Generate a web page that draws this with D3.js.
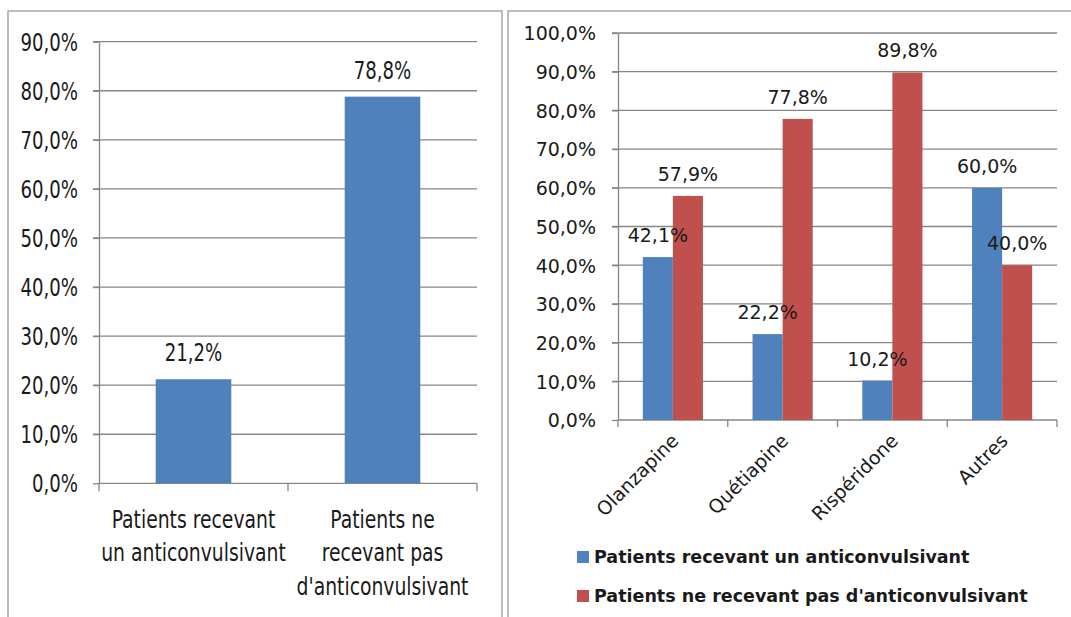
<!DOCTYPE html>
<html lang="fr">
<head>
<meta charset="UTF-8">
<title>Anticonvulsivants</title>
<script src="https://d3js.org/d3.v7.min.js"></script>
<style>
  body { margin: 0; background: #fff; }
  svg { display: block; }
  .narrow { font-family: "Liberation Sans Narrow", "DejaVu Sans Condensed", "DejaVu Sans", sans-serif; font-stretch: condensed; fill: #1a1a1a; }
  .wide { font-family: "DejaVu Sans", Verdana, sans-serif; fill: #1a1a1a; }
  .grid line { stroke: #868686; stroke-width: 1.3; }
  .axis path, .axis line { stroke: #868686; stroke-width: 1.3; }
</style>
</head>
<body>
<div id="chart"></div>
<script>
// left chart
const leftCats = ["Patients recevant un anticonvulsivant", "Patients ne recevant pas d'anticonvulsivant"];
const leftLines = [["Patients recevant", "un anticonvulsivant"], ["Patients ne", "recevant pas", "d'anticonvulsivant"]];
const leftValues = [21.2, 78.8];
const leftTicks = [0, 10, 20, 30, 40, 50, 60, 70, 80, 90];

// right chart
const rightCats = ["Olanzapine", "Quétiapine", "Rispéridone", "Autres"];
const series = ["Patients recevant un anticonvulsivant", "Patients ne recevant pas d'anticonvulsivant"];
const withAnti = [42.1, 22.2, 10.2, 60.0];
const withoutAnti = [57.9, 77.8, 89.8, 40.0];
const rightTicks = [0, 10, 20, 30, 40, 50, 60, 70, 80, 90, 100];

const colors = ["#4F81BD", "#C0504D"];
const fmt = v => d3.format(".1f")(v).replace(".", ",") + "%";
const SX = 0.84; // squeeze for the narrow font of the left chart

const W = 1071, H = 617;
const svg = d3.select("#chart").append("svg").attr("width", W).attr("height", H);

// panel borders
svg.append("path")
  .attr("d", "M8,617 V11 H502 V617")
  .attr("fill", "none").attr("stroke", "#a6a6a6").attr("stroke-width", 1.5);
svg.append("path")
  .attr("d", "M508,617 V11 H1071")
  .attr("fill", "none").attr("stroke", "#a6a6a6").attr("stroke-width", 1.5);

// ---------- left chart ----------
const L = { left: 99, right: 477, top: 41.7, bottom: 483.3 };
const xL = d3.scaleBand().domain(leftCats).range([L.left, L.right]);
const yL = d3.scaleLinear().domain([0, 90]).range([L.bottom, L.top]);
const gL = svg.append("g");

gL.append("g").attr("class", "grid")
  .selectAll("line").data(leftTicks.slice(1)).join("line")
  .attr("x1", L.left - 6).attr("x2", L.right)
  .attr("y1", d => yL(d)).attr("y2", d => yL(d));

const yAxisL = gL.append("g").attr("class", "axis")
  .attr("transform", `translate(${L.left},0)`)
  .call(d3.axisLeft(yL).tickValues(leftTicks).tickSize(6).tickSizeOuter(0).tickFormat(fmt));
yAxisL.selectAll("text").attr("class", "narrow").attr("x", 0)
  .attr("transform", `translate(-21,0) scale(${SX},1)`)
  .style("font-size", "24px").attr("dy", "0.36em");

// x axis line + ticks at band edges
gL.append("line")
  .attr("x1", L.left).attr("x2", L.right).attr("y1", L.bottom).attr("y2", L.bottom)
  .attr("stroke", "#868686").attr("stroke-width", 1.3);
gL.selectAll(".xtick").data([...leftCats.map(c => xL(c)), L.right]).join("line")
  .attr("x1", d => d).attr("x2", d => d).attr("y1", L.bottom).attr("y2", L.bottom + 8)
  .attr("stroke", "#868686").attr("stroke-width", 1.3);

const barWL = xL.bandwidth() / 2.5;
gL.selectAll(".bar").data(leftValues).join("rect")
  .attr("x", (d, i) => xL(leftCats[i]) + (xL.bandwidth() - barWL) / 2)
  .attr("width", barWL)
  .attr("y", d => yL(d))
  .attr("height", d => yL(0) - yL(d))
  .attr("fill", colors[0]);

gL.selectAll(".val").data(leftValues).join("text")
  .attr("class", "narrow").style("font-size", "24px")
  .attr("text-anchor", "middle")
  .attr("transform", (d, i) => `translate(${xL(leftCats[i]) + xL.bandwidth() / 2},${yL(d) - 18}) scale(${SX},1)`)
  .text(fmt);

const catL = gL.selectAll(".cat").data(leftLines).join("text")
  .attr("class", "narrow").style("font-size", "24px")
  .attr("text-anchor", "middle")
  .attr("transform", (d, i) => `translate(${xL(leftCats[i]) + xL.bandwidth() / 2},0) scale(0.87,1)`);
catL.selectAll("tspan").data(d => d).join("tspan")
  .attr("x", 0)
  .attr("y", (d, j) => 528 + j * 33.5)
  .text(d => d);

// ---------- right chart ----------
const R = { left: 618, right: 1057, top: 33, bottom: 420 };
const x0 = d3.scaleBand().domain(rightCats).range([R.left, R.right]);
const barWR = x0.bandwidth() / 3.65;
const x1 = d3.scaleBand().domain(series).range([0, 2 * barWR]);
const yR = d3.scaleLinear().domain([0, 100]).range([R.bottom, R.top]);
const gR = svg.append("g");

gR.append("g").attr("class", "grid")
  .selectAll("line").data(rightTicks.slice(1)).join("line")
  .attr("x1", R.left - 6).attr("x2", R.right)
  .attr("y1", d => yR(d)).attr("y2", d => yR(d));

const yAxisR = gR.append("g").attr("class", "axis")
  .attr("transform", `translate(${R.left},0)`)
  .call(d3.axisLeft(yR).tickValues(rightTicks).tickSize(6).tickSizeOuter(0).tickFormat(fmt));
yAxisR.selectAll("text").attr("class", "wide").attr("x", -22)
  .style("font-size", "19px").attr("dy", "0.36em");

gR.append("line")
  .attr("x1", R.left).attr("x2", R.right).attr("y1", R.bottom).attr("y2", R.bottom)
  .attr("stroke", "#868686").attr("stroke-width", 1.3);
gR.selectAll(".xtick").data([...rightCats.map(c => x0(c)), R.right]).join("line")
  .attr("x1", d => d).attr("x2", d => d).attr("y1", R.bottom).attr("y2", R.bottom + 7)
  .attr("stroke", "#868686").attr("stroke-width", 1.3);

const rows = rightCats.map((c, i) => ({ cat: c, vals: [withAnti[i], withoutAnti[i]] }));
const grp = gR.selectAll(".grp").data(rows).join("g")
  .attr("transform", d => `translate(${x0(d.cat) + (x0.bandwidth() - 2 * barWR) / 2},0)`);

grp.selectAll("rect").data(d => d.vals.map((v, k) => ({ v, k }))).join("rect")
  .attr("x", d => x1(series[d.k]))
  .attr("width", x1.bandwidth())
  .attr("y", d => yR(d.v))
  .attr("height", d => yR(0) - yR(d.v))
  .attr("fill", d => colors[d.k]);

grp.selectAll("text").data(d => d.vals.map((v, k) => ({ v, k }))).join("text")
  .attr("class", "wide").style("font-size", "19px")
  .attr("text-anchor", "middle")
  .attr("x", d => x1(series[d.k]) + x1.bandwidth() / 2)
  .attr("y", d => yR(d.v) - 15)
  .text(d => fmt(d.v));

gR.selectAll(".cat").data(rightCats).join("text")
  .attr("class", "wide").style("font-size", "19px")
  .attr("text-anchor", "end")
  .attr("transform", d => `translate(${x0(d) + x0.bandwidth() / 2 + 7},442) rotate(-45)`)
  .text(d => d);

// legend
const leg = svg.append("g");
series.forEach((s, i) => {
  const y = 551 + i * 39;
  leg.append("rect").attr("x", 577).attr("y", y).attr("width", 12).attr("height", 12).attr("fill", colors[i]);
  leg.append("text").attr("class", "wide").style("font-size", "17.5px").style("font-weight", "bold")
    .attr("x", 594).attr("y", y + 12).text(s);
});
</script>
</body>
</html>
